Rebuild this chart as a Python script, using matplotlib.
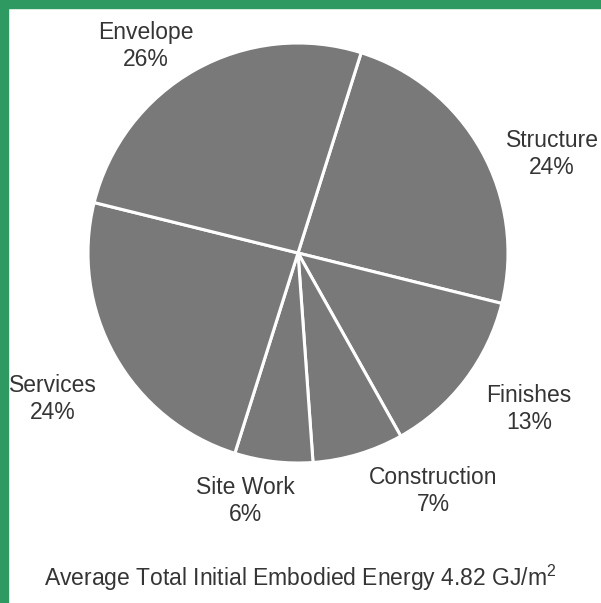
import matplotlib
matplotlib.use("Agg")
import matplotlib.pyplot as plt
from matplotlib.patches import Rectangle

plt.rcParams['font.family'] = ['Liberation Sans', 'DejaVu Sans']
plt.rcParams['mathtext.default'] = 'regular'

# Data (clockwise from the Envelope/Structure boundary)
categories = ["Structure", "Finishes", "Construction", "Site Work", "Services", "Envelope"]
shares = [24, 13, 7, 6, 24, 26]
caption = r"Average Total Initial Embodied Energy 4.82 GJ/m$^{2}$"

# Layout (pixel coordinates, y measured from top)
W, H = 601, 603
center_px = (298, 253)
radius_px = 210
label_pos_px = {
    "Structure": (552, 154),
    "Finishes": (529, 409),
    "Construction": (433, 491),
    "Site Work": (245, 501),
    "Services": (53, 399),
    "Envelope": (146, 46),
}
green = "#2e9a62"
slice_gray = "#797979"
text_col = "#353535"

fig = plt.figure(figsize=(W / 100, H / 100), dpi=100)
ax = fig.add_axes([0, 0, 1, 1])

# green frame (left and top)
ax.add_patch(Rectangle((0, 0), 8, H, color=green, zorder=0))
ax.add_patch(Rectangle((0, H - 8), W, 8, color=green, zorder=0))

ax.pie(shares, colors=[slice_gray] * len(shares), startangle=72.5,
       counterclock=False, center=(center_px[0], H - center_px[1]),
       radius=radius_px, frame=True,
       wedgeprops=dict(edgecolor='white', linewidth=2.2))
ax.set_xlim(0, W)
ax.set_ylim(0, H)
ax.set_aspect('equal')
ax.axis('off')

for cat, val in zip(categories, shares):
    x, y = label_pos_px[cat]
    ax.text(x, H - y, f"{cat}\n{val}%", ha='center', va='center',
            fontsize=16.5, color=text_col, linespacing=1.2)

ax.text(300, H - 578, caption, ha='center', va='center',
        fontsize=16.5, color=text_col)

fig.savefig("out.png", dpi=100)
